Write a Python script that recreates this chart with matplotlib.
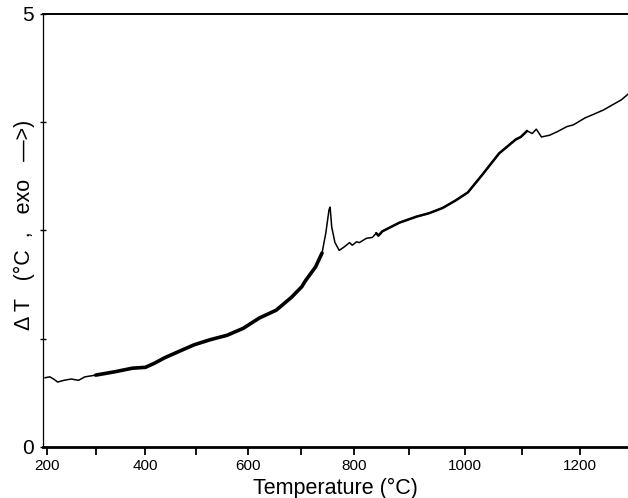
import numpy as np
import matplotlib
matplotlib.use("Agg")
import matplotlib.pyplot as plt

plt.rcParams['font.family'] = ['Liberation Sans', 'DejaVu Sans']

# Temperature (°C) and ΔT (°C)
temp = [196, 206, 215, 222, 235, 250, 265, 278, 300, 340, 374, 400, 419, 438,
        465, 496, 528, 560, 591, 622, 654, 683, 702, 709, 728, 740, 747, 753,
        755, 758, 764, 772, 781, 791, 796, 804, 809, 822, 833, 840, 844, 851,
        882, 913, 936, 960, 984, 1005, 1030, 1060, 1089, 1098, 1109, 1118,
        1125, 1134, 1148, 1161, 1178, 1189, 1209, 1240, 1271, 1283]
dT = [0.80, 0.81, 0.78, 0.75, 0.77, 0.785, 0.77, 0.81, 0.83, 0.87, 0.91, 0.92,
      0.97, 1.03, 1.10, 1.18, 1.24, 1.29, 1.37, 1.49, 1.58, 1.73, 1.85, 1.92,
      2.08, 2.24, 2.47, 2.74, 2.77, 2.54, 2.36, 2.27, 2.31, 2.36, 2.33, 2.37,
      2.36, 2.41, 2.42, 2.47, 2.44, 2.49, 2.59, 2.66, 2.70, 2.76, 2.85, 2.94,
      3.14, 3.39, 3.55, 3.58, 3.65, 3.62, 3.67, 3.58, 3.60, 3.64, 3.70, 3.72,
      3.80, 3.89, 4.01, 4.08]

xticks = [200, 300, 400, 500, 600, 700, 800, 900, 1000, 1100, 1200]
xticklabels = ['200', '', '400', '', '600', '', '800', '', '1000', '', '1200']
yticks = [0, 1.25, 2.5, 3.75, 5]
yticklabels = ['0', '', '', '', '5']

# slight non-linearity of the original temperature axis
B, C = 48.2, 0.51
def fwd(T):
    t = (np.asarray(T, dtype=float) - 200.0) / 100.0
    return B * t + C * t * t
def inv(p):
    p = np.asarray(p, dtype=float)
    disc = np.maximum(B * B + 4 * C * p, 0.0)
    return 200.0 + 100.0 * (-B + np.sqrt(disc)) / (2 * C)

fig = plt.figure(figsize=(6.28, 4.98), dpi=100)
ax = fig.add_axes([43/628, 1 - 447/498, 585/628, 433/498])
ax.set_xscale('function', functions=(fwd, inv))

ax.plot(temp, dT, color='black', lw=1.1, solid_joinstyle='round')
T = np.array(temp); D = np.array(dT)
m = (T >= 290) & (T <= 745)
ax.plot(T[m], D[m], color='black', lw=2.6, solid_capstyle='round')
m2 = (T >= 840) & (T <= 1110)
ax.plot(T[m2], D[m2], color='black', lw=1.8, solid_capstyle='round')

ax.set_xlim(191.7, 1282)
ax.set_ylim(0, 5)
ax.set_xticks(xticks)
ax.set_xticklabels(xticklabels, fontsize=11)
ax.set_yticks(yticks)
ax.set_yticklabels(yticklabels, fontsize=15)
ax.tick_params(axis='x', direction='out', length=6, width=1.3, pad=3)
ax.tick_params(axis='y', direction='inout', length=5, width=1.0, pad=4)
ax.minorticks_off()

ax.spines['right'].set_visible(False)
ax.spines['bottom'].set_linewidth(2.0)
ax.spines['left'].set_linewidth(0.9)
ax.spines['top'].set_linewidth(1.4)

ax.set_xlabel('Temperature (°C)', fontsize=15.5, labelpad=3)
ax.set_ylabel('Δ T   (°C  ,   exo   —>)', fontsize=15.5, va='center')
ax.yaxis.set_label_coords(-0.031, 0.513)

fig.savefig('out.png', dpi=100)
